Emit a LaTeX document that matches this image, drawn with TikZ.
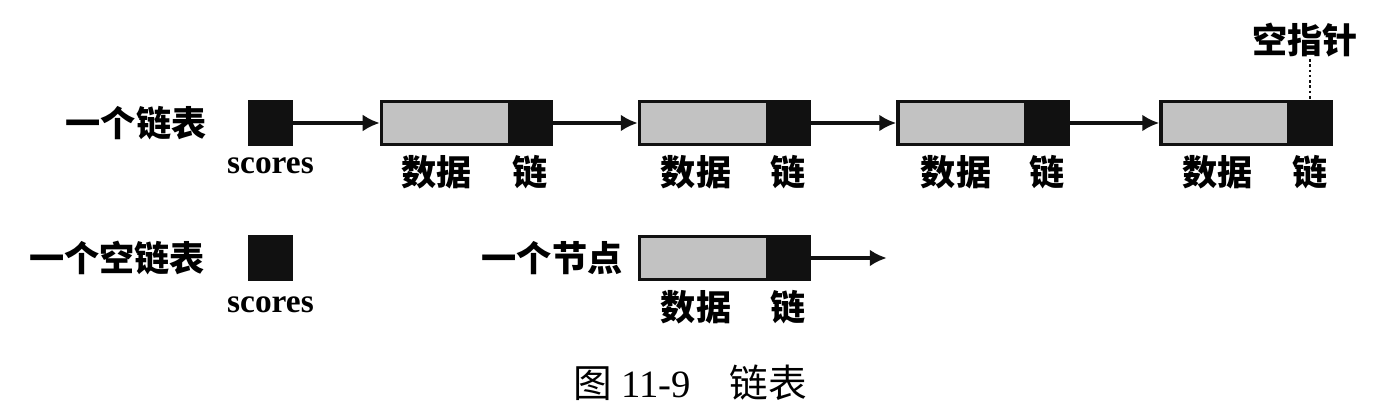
\documentclass[tikz,border=0pt]{standalone}
\usepackage{fontspec}
\setmainfont{Liberation Serif}
\newfontfamily\cjkhei{Noto Sans CJK SC}
\usetikzlibrary{arrows.meta, positioning}
\definecolor{cellBlack}{HTML}{111111}
\definecolor{dataGray}{HTML}{C2C2C2}
\tikzset{
  datacell/.style={draw=cellBlack, line width=2pt, fill=dataGray, minimum width=2.56cm, minimum height=0.86cm, inner sep=0pt, outer sep=0pt},
  linkcell/.style={draw=cellBlack, line width=2pt, fill=cellBlack, minimum width=0.84cm, minimum height=0.86cm, inner sep=0pt, outer sep=0pt},
  cjklab/.style={font=\cjkhei\bfseries\fontsize{20}{20}\selectfont, inner sep=1pt},
  scorelab/.style={font=\bfseries\fontsize{19}{19}\selectfont, inner sep=1pt},
  ptrarr/.style={-{Latex[length=3.4mm, width=3.4mm]}, line width=2.6pt, cellBlack, shorten >=1pt},
}

\begin{document}
\begin{tikzpicture}[node distance=1.64cm]
    \useasboundingbox (0,0) rectangle (27.84,-8.24);
    % a list
    \node[linkcell] (head) at (5.41,-2.46) {};
    \node[cjklab, left=0.82cm of head] (listlab) {一个链表};
    \node[scorelab, below=0.22cm of head] (headname) {scores};
    \node[datacell] (data1) at (8.91,-2.46) {};
    \node[linkcell, anchor=west] (link1) at (data1.east) {};
    \node[datacell] (data2) at (14.07,-2.46) {};
    \node[linkcell, anchor=west] (link2) at (data2.east) {};
    \node[datacell] (data3) at (19.24,-2.46) {};
    \node[linkcell, anchor=west] (link3) at (data3.east) {};
    \node[datacell] (data4) at (24.50,-2.46) {};
    \node[linkcell, anchor=west] (link4) at (data4.east) {};
    \draw[ptrarr] (head) -- (data1);
    \draw[ptrarr] (link1) -- (data2);
    \draw[ptrarr] (link2) -- (data3);
    \draw[ptrarr] (link3) -- (data4);
    \node[cjklab, below=0.17cm of data1, xshift=-0.18cm] (dlab1) {数据};
    \node[cjklab, below=0.17cm of link1] (llab1) {链};
    \node[cjklab, below=0.17cm of data2, xshift=-0.15cm] (dlab2) {数据};
    \node[cjklab, below=0.17cm of link2] (llab2) {链};
    \node[cjklab, below=0.17cm of data3, xshift=-0.12cm] (dlab3) {数据};
    \node[cjklab, below=0.17cm of link3] (llab3) {链};
    \node[cjklab, below=0.17cm of data4, xshift=-0.15cm] (dlab4) {数据};
    \node[cjklab, below=0.17cm of link4] (llab4) {链};
    \node[cjklab, above=0.85cm of link4, xshift=-0.1cm] (nullptr) {空指针};
    \draw[line width=1.5pt, dash pattern=on 1.5pt off 1.5pt, cellBlack] (nullptr.south -| link4.north) -- (link4.north);
    % an empty list
    \node[linkcell] (emptyhead) at (5.41,-5.16) {};
    \node[cjklab, left=0.85cm of emptyhead] (emptylab) {一个空链表};
    \node[scorelab, below=0.3cm of emptyhead] (emptyname) {scores};
    % a node
    \node[datacell] (data5) at (14.07,-5.16) {};
    \node[linkcell, anchor=west] (link5) at (data5.east) {};
    \node[cjklab, left=0.3cm of data5] (nodelab) {一个节点};
    \coordinate[right=2.0cm of link5.center] (nextend);
    \draw[ptrarr] (link5) -- (nextend);
    \node[cjklab, below=0.17cm of data5, xshift=-0.15cm] (dlab5) {数据};
    \node[cjklab, below=0.17cm of link5] (llab5) {链};
    % caption
    \node[font=\fontsize{22}{22}\selectfont] (caption) at (13.8,-7.66) {{\cjkhei 图} 11-9\quad{\cjkhei 链表}};
\end{tikzpicture}
\end{document}
